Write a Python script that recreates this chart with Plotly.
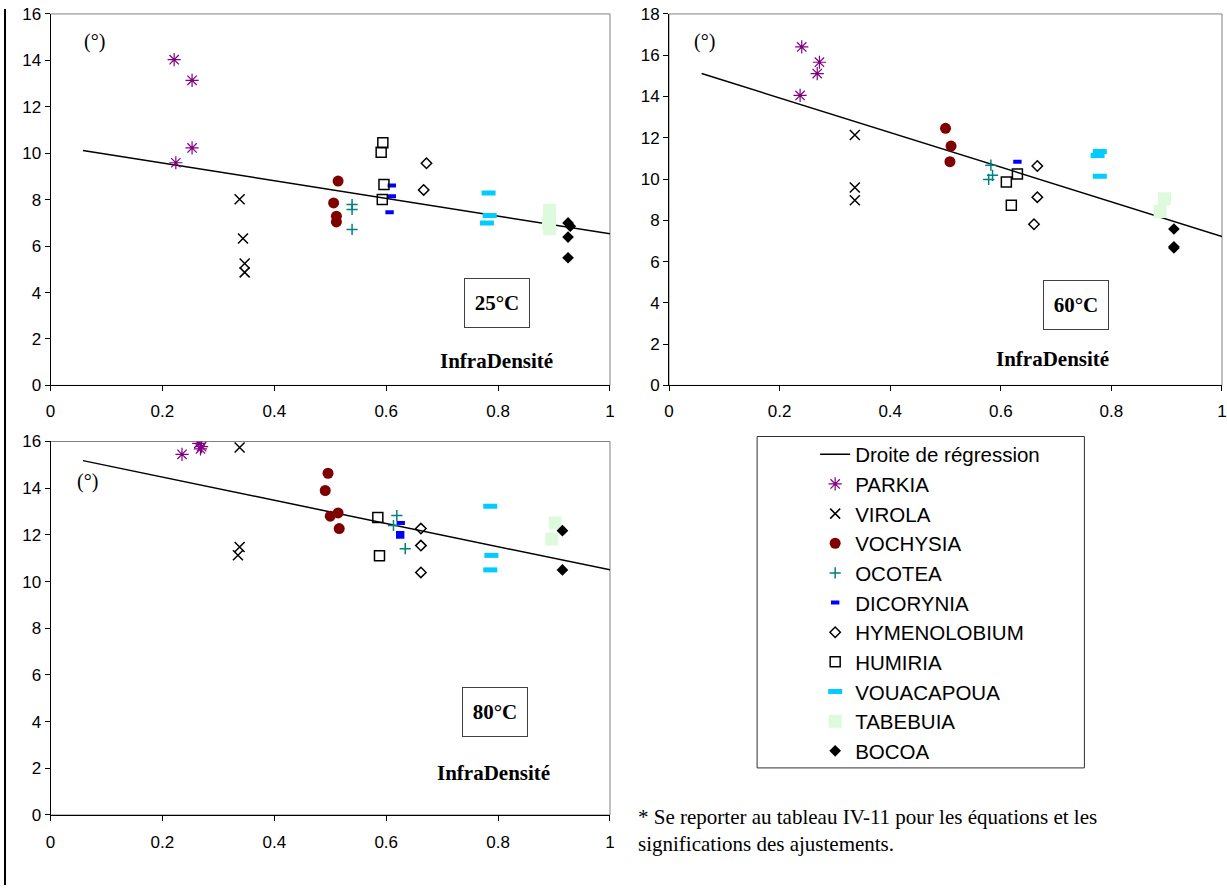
import plotly.graph_objects as go

W, H = 1227, 895
# the photographed page comes out slightly shrunk about its centre;
# positions below are target pixels, mapped back through that scale
SX, SY = 0.991, 0.9775
CX, CY = W / 2, H / 2

species = ["PARKIA", "VIROLA", "VOCHYSIA", "OCOTEA", "DICORYNIA",
           "HYMENOLOBIUM", "HUMIRIA", "VOUACAPOUA", "TABEBUIA", "BOCOA"]

# ---- 25°C panel ----
sp_25 = ["PARKIA"]*4 + ["VIROLA"]*4 + ["VOCHYSIA"]*4 + ["OCOTEA"]*3 + ["DICORYNIA"]*3 + \
        ["HYMENOLOBIUM"]*2 + ["HUMIRIA"]*4 + ["VOUACAPOUA"]*3 + ["TABEBUIA"]*4 + ["BOCOA"]*4
x_25 = [0.221, 0.253, 0.253, 0.224,
        0.338, 0.344, 0.347, 0.347,
        0.514, 0.506, 0.511, 0.511,
        0.539, 0.539, 0.539,
        0.610, 0.610, 0.606,
        0.672, 0.667,
        0.594, 0.591, 0.596, 0.593,
        0.783, 0.785, 0.780,
        0.892, 0.892, 0.890, 0.892,
        0.925, 0.929, 0.925, 0.925]
y_25 = [14.03, 13.14, 10.23, 9.59,
        8.02, 6.33, 5.25, 4.87,
        8.80, 7.86, 7.29, 7.04,
        7.79, 7.58, 6.72,
        8.61, 8.15, 7.46,
        9.57, 8.42,
        10.45, 10.04, 8.65, 8.01,
        8.29, 7.32, 7.00,
        7.55, 7.28, 7.00, 6.75,
        7.00, 6.86, 6.39, 5.50]
reg_x_25 = [0.058, 1.0]
reg_y_25 = [10.12, 6.53]

# ---- 60°C panel ----
sp_60 = ["PARKIA"]*4 + ["VIROLA"]*3 + ["VOCHYSIA"]*3 + ["OCOTEA"]*3 + ["DICORYNIA"]*1 + \
        ["HYMENOLOBIUM"]*3 + ["HUMIRIA"]*3 + ["VOUACAPOUA"]*3 + ["TABEBUIA"]*2 + ["BOCOA"]*3
x_60 = [0.240, 0.272, 0.268, 0.237,
        0.336, 0.336, 0.336,
        0.500, 0.510, 0.508,
        0.582, 0.585, 0.578,
        0.630,
        0.666, 0.666, 0.660,
        0.630, 0.610, 0.619,
        0.779, 0.775, 0.779,
        0.896, 0.888,
        0.913, 0.913, 0.913]
y_60 = [16.40, 15.66, 15.11, 14.05,
        12.13, 9.59, 8.97,
        12.46, 11.60, 10.84,
        10.67, 10.18, 9.98,
        10.84,
        10.63, 9.12, 7.81,
        10.25, 9.86, 8.73,
        11.33, 11.14, 10.13,
        9.05, 8.43,
        7.58, 6.72, 6.66]
reg_x_60 = [0.059, 1.0]
reg_y_60 = [15.11, 7.22]

# ---- 80°C panel ----
sp_80 = ["PARKIA"]*4 + ["VIROLA"]*3 + ["VOCHYSIA"]*5 + ["OCOTEA"]*3 + ["DICORYNIA"]*3 + \
        ["HYMENOLOBIUM"]*3 + ["HUMIRIA"]*2 + ["VOUACAPOUA"]*3 + ["TABEBUIA"]*2 + ["BOCOA"]*2
x_80 = [0.235, 0.265, 0.270, 0.268,
        0.338, 0.338, 0.335,
        0.496, 0.491, 0.500, 0.514, 0.516,
        0.619, 0.613, 0.634,
        0.626, 0.625, 0.625,
        0.662, 0.662, 0.662,
        0.585, 0.588,
        0.786, 0.788, 0.786,
        0.902, 0.896,
        0.915, 0.915]
y_80 = [15.45, 15.92, 15.78, 15.68,
        15.74, 11.48, 11.13,
        14.64, 13.90, 12.80, 12.94, 12.27,
        12.83, 12.40, 11.41,
        12.51, 12.08, 11.92,
        12.27, 11.54, 10.39,
        12.74, 11.11,
        13.23, 11.12, 10.50,
        12.51, 11.82,
        12.18, 10.50]
reg_x_80 = [0.058, 1.0]
reg_y_80 = [15.18, 10.50]

panel_titles = ["25°C", "60°C", "80°C"]
x_title = "InfraDensité"
y_unit = "(°)"
reg_name = "Droite de régression"
footnote = "* Se reporter au tableau IV-11 pour les équations et les<br>significations des ajustements."

styles = {
    "PARKIA":       dict(symbol="asterisk-open", size=11, color="#800080", line=dict(color="#800080", width=1.2)),
    "VIROLA":       dict(symbol="x-thin-open", size=10, color="black", line=dict(color="black", width=1.5)),
    "VOCHYSIA":     dict(symbol="circle", size=11, color="#800000", line=dict(width=0)),
    "OCOTEA":       dict(symbol="cross-thin-open", size=8, color="#008080", line=dict(color="#008080", width=1.5)),
    "DICORYNIA":    dict(symbol="line-ew-open", size=6, color="#0000FF", line=dict(color="#0000FF", width=4)),
    "HYMENOLOBIUM": dict(symbol="diamond-open", size=8, color="black", line=dict(color="black", width=1.5)),
    "HUMIRIA":      dict(symbol="square-open", size=10, color="black", line=dict(color="black", width=1.5)),
    "VOUACAPOUA":   dict(symbol="line-ew-open", size=10, color="#00CCFF", line=dict(color="#00CCFF", width=5)),
    "TABEBUIA":     dict(symbol="square", size=13, color="#DDFADD", line=dict(width=0)),
    "BOCOA":        dict(symbol="diamond", size=9, color="black", line=dict(width=0)),
}

SANS = "Liberation Sans"
SERIF = "Liberation Serif"

fig = go.Figure()

panels = [
    (sp_25, x_25, y_25, reg_x_25, reg_y_25, "x", "y"),
    (sp_60, x_60, y_60, reg_x_60, reg_y_60, "x2", "y2"),
    (sp_80, x_80, y_80, reg_x_80, reg_y_80, "x3", "y3"),
]

for i, (sp, xs, ys, rx, ry, xa, ya) in enumerate(panels):
    fig.add_trace(go.Scatter(x=rx, y=ry, mode="lines", name=reg_name,
                             line=dict(color="black", width=1.5),
                             legendgroup="reg", showlegend=(i == 0),
                             xaxis=xa, yaxis=ya))
    for s in species:
        px = [x for x, k in zip(xs, sp) if k == s]
        py = [y for y, k in zip(ys, sp) if k == s]
        fig.add_trace(go.Scatter(x=px, y=py, mode="markers", name=s,
                                 marker=styles[s], legendgroup=s,
                                 showlegend=(i == 0), xaxis=xa, yaxis=ya))


def fx(p):
    page = CX + (p - CX) / SX
    return min(max(page / W, 0.0), 1.0)


def fy(p):
    page = CY + (p - CY) / SY
    return min(max(1 - page / H, 0.0), 1.0)


axis_common = dict(showgrid=False, zeroline=False, showline=True, linecolor="black",
                   linewidth=1, ticks="outside", ticklen=5, tickcolor="black",
                   tickfont=dict(family=SANS, size=17, color="black"))

xd1 = [fx(51), fx(610)]
xd2 = [fx(669), 1.0]
yd_top = [fy(386), fy(15)]
yd_bot = [fy(815), fy(442)]

fig.update_layout(
    width=W, height=H, autosize=False,
    margin=dict(l=0, r=0, t=0, b=0),
    paper_bgcolor="white", plot_bgcolor="white",
    xaxis=dict(domain=xd1, anchor="y", range=[0, 1], dtick=0.2, ticklabelstandoff=5, **axis_common),
    yaxis=dict(domain=yd_top, anchor="x", range=[0, 16], dtick=2, **axis_common),
    xaxis2=dict(domain=xd2, anchor="y2", range=[0, 1], dtick=0.2, ticklabelstandoff=5, **axis_common),
    yaxis2=dict(domain=yd_top, anchor="x2", range=[0, 18], dtick=2, **axis_common),
    xaxis3=dict(domain=xd1, anchor="y3", range=[0, 1], dtick=0.2, ticklabelstandoff=7, **axis_common),
    yaxis3=dict(domain=yd_bot, anchor="x3", range=[0, 16], dtick=2, **axis_common),
    showlegend=True,
    legend=dict(x=fx(815), y=fy(435), xanchor="left", yanchor="top",
                bgcolor="rgba(0,0,0,0)", borderwidth=0, tracegroupgap=0,
                font=dict(family=SANS, size=20.5, color="black")),
)

shapes = []
for xa in ["x", "x2", "x3"]:
    ya = xa.replace("x", "y")
    shapes.append(dict(type="rect", xref=f"{xa} domain", yref=f"{ya} domain",
                       x0=0, x1=1, y0=0, y1=1, line=dict(color="#808080", width=1),
                       layer="below"))
shapes.append(dict(type="rect", xref="paper", yref="paper",
                   x0=fx(757), x1=fx(1084), y0=fy(768), y1=fy(437),
                   line=dict(color="#303030", width=1), fillcolor="rgba(0,0,0,0)"))
shapes.append(dict(type="line", xref="paper", yref="paper",
                   x0=fx(4), x1=fx(4), y0=fy(893), y1=fy(0),
                   line=dict(color="black", width=2)))
fig.update_layout(shapes=shapes)

annotations = []
for (ax, ay) in [(95, 43), (704, 43), (88, 482)]:
    annotations.append(dict(x=fx(ax), y=fy(ay), xref="paper", yref="paper",
                            xanchor="center", yanchor="middle",
                            text=y_unit, showarrow=False,
                            font=dict(family=SERIF, size=20, color="black")))
for title, (cx, cy) in zip(panel_titles, [(497, 304), (1109, 306), (495, 737)]):
    annotations.append(dict(x=fx(cx), y=fy(cy), xref="paper", yref="paper",
                            text=f"<b>{title}</b>", showarrow=False,
                            width=60, height=44, borderpad=2,
                            bordercolor="#404040", borderwidth=1,
                            font=dict(family=SERIF, size=21, color="black")))
for (cx, cy) in [(497, 362), (1111, 360), (494, 787)]:
    annotations.append(dict(x=fx(cx), y=fy(cy), xref="paper", yref="paper",
                            text=f"<b>{x_title}</b>", showarrow=False,
                            font=dict(family=SERIF, size=21, color="black")))
annotations.append(dict(x=fx(636), y=fy(803), xref="paper", yref="paper",
                        xanchor="left", yanchor="top", align="left",
                        text=footnote, showarrow=False,
                        font=dict(family=SERIF, size=21, color="black")))
fig.update_layout(annotations=annotations)

fig.write_html("out.html", config={"displayModeBar": False},
               post_script="document.body.style.margin='0';")
